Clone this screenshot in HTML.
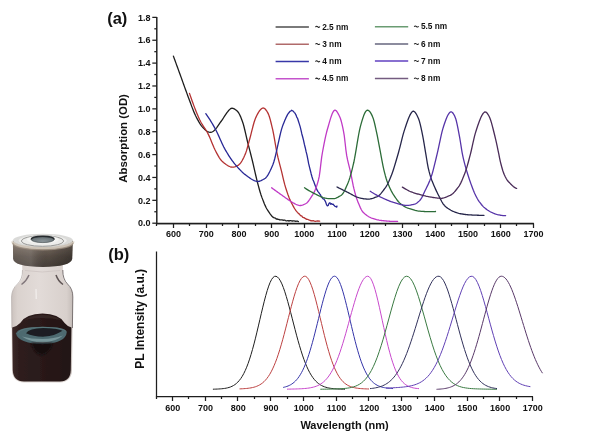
<!DOCTYPE html><html><head><meta charset="utf-8"><style>html,body{margin:0;padding:0;background:#fff;width:591px;height:437px;overflow:hidden}svg{display:block;filter:blur(0.3px)}text{font-family:"Liberation Sans",sans-serif;font-weight:bold;fill:#111}</style></head><body>
<svg width="591" height="437" viewBox="0 0 591 437">
<g stroke="#1e1e1e" stroke-width="1.25" fill="none">
<path d="M156.80 17.0 V223.5 H533.8" stroke-width="1.45"/>
<path d="M156.80 223.5 H533.8"/>
<path d="M152.30 223.20 H156.80"/>
<path d="M154.30 211.76 H156.80"/>
<path d="M152.30 200.33 H156.80"/>
<path d="M154.30 188.89 H156.80"/>
<path d="M152.30 177.46 H156.80"/>
<path d="M154.30 166.02 H156.80"/>
<path d="M152.30 154.59 H156.80"/>
<path d="M154.30 143.15 H156.80"/>
<path d="M152.30 131.72 H156.80"/>
<path d="M154.30 120.28 H156.80"/>
<path d="M152.30 108.85 H156.80"/>
<path d="M154.30 97.41 H156.80"/>
<path d="M152.30 85.98 H156.80"/>
<path d="M154.30 74.54 H156.80"/>
<path d="M152.30 63.11 H156.80"/>
<path d="M154.30 51.68 H156.80"/>
<path d="M152.30 40.24 H156.80"/>
<path d="M154.30 28.80 H156.80"/>
<path d="M152.30 17.37 H156.80"/>
<path d="M156.50 223.5 V226.00"/>
<path d="M173.50 223.5 V228.00"/>
<path d="M189.50 223.5 V226.00"/>
<path d="M206.50 223.5 V228.00"/>
<path d="M222.50 223.5 V226.00"/>
<path d="M238.50 223.5 V228.00"/>
<path d="M255.50 223.5 V226.00"/>
<path d="M271.50 223.5 V228.00"/>
<path d="M287.50 223.5 V226.00"/>
<path d="M304.50 223.5 V228.00"/>
<path d="M320.50 223.5 V226.00"/>
<path d="M336.50 223.5 V228.00"/>
<path d="M353.50 223.5 V226.00"/>
<path d="M369.50 223.5 V228.00"/>
<path d="M385.50 223.5 V226.00"/>
<path d="M402.50 223.5 V228.00"/>
<path d="M418.50 223.5 V226.00"/>
<path d="M435.50 223.5 V228.00"/>
<path d="M451.50 223.5 V226.00"/>
<path d="M467.50 223.5 V228.00"/>
<path d="M484.50 223.5 V226.00"/>
<path d="M500.50 223.5 V228.00"/>
<path d="M516.50 223.5 V226.00"/>
<path d="M533.50 223.5 V228.00"/>
</g>
<text x="150.5" y="226.40" font-size="9" text-anchor="end">0.0</text>
<text x="150.5" y="203.53" font-size="9" text-anchor="end">0.2</text>
<text x="150.5" y="180.66" font-size="9" text-anchor="end">0.4</text>
<text x="150.5" y="157.79" font-size="9" text-anchor="end">0.6</text>
<text x="150.5" y="134.92" font-size="9" text-anchor="end">0.8</text>
<text x="150.5" y="112.05" font-size="9" text-anchor="end">1.0</text>
<text x="150.5" y="89.18" font-size="9" text-anchor="end">1.2</text>
<text x="150.5" y="66.31" font-size="9" text-anchor="end">1.4</text>
<text x="150.5" y="43.44" font-size="9" text-anchor="end">1.6</text>
<text x="150.5" y="20.57" font-size="9" text-anchor="end">1.8</text>
<text x="173.50" y="236.8" font-size="9" text-anchor="middle">600</text>
<text x="206.22" y="236.8" font-size="9" text-anchor="middle">700</text>
<text x="238.94" y="236.8" font-size="9" text-anchor="middle">800</text>
<text x="271.65" y="236.8" font-size="9" text-anchor="middle">900</text>
<text x="304.37" y="236.8" font-size="9" text-anchor="middle">1000</text>
<text x="337.09" y="236.8" font-size="9" text-anchor="middle">1100</text>
<text x="369.81" y="236.8" font-size="9" text-anchor="middle">1200</text>
<text x="402.53" y="236.8" font-size="9" text-anchor="middle">1300</text>
<text x="435.24" y="236.8" font-size="9" text-anchor="middle">1400</text>
<text x="467.96" y="236.8" font-size="9" text-anchor="middle">1500</text>
<text x="500.68" y="236.8" font-size="9" text-anchor="middle">1600</text>
<text x="533.40" y="236.8" font-size="9" text-anchor="middle">1700</text>
<text transform="translate(126.7 138.4) rotate(-90)" font-size="11.4" text-anchor="middle">Absorption (OD)</text>
<text x="107.2" y="23.8" font-size="16.5">(a)</text>
<path d="M275.6 27.0 H308.9" stroke="#4e4e4e" stroke-width="1.5" fill="none"/>
<path d="M315.50 27.10 C316.20 26.00 317.10 26.20 317.80 26.90 C318.50 27.60 319.20 27.60 319.90 26.50" fill="none" stroke="#1a1a1a" stroke-width="1.05"/>
<text x="322.20" y="29.6" font-size="8.3">2.5 nm</text>
<path d="M275.6 44.2 H308.9" stroke="#b06a6a" stroke-width="1.5" fill="none"/>
<path d="M315.50 44.30 C316.20 43.20 317.10 43.40 317.80 44.10 C318.50 44.80 319.20 44.80 319.90 43.70" fill="none" stroke="#1a1a1a" stroke-width="1.05"/>
<text x="322.20" y="46.8" font-size="8.3">3 nm</text>
<path d="M275.6 61.5 H308.9" stroke="#3838a8" stroke-width="1.5" fill="none"/>
<path d="M315.50 61.60 C316.20 60.50 317.10 60.70 317.80 61.40 C318.50 62.10 319.20 62.10 319.90 61.00" fill="none" stroke="#1a1a1a" stroke-width="1.05"/>
<text x="322.20" y="64.1" font-size="8.3">4 nm</text>
<path d="M275.6 78.8 H308.9" stroke="#c454cc" stroke-width="1.5" fill="none"/>
<path d="M315.50 78.90 C316.20 77.80 317.10 78.00 317.80 78.70 C318.50 79.40 319.20 79.40 319.90 78.30" fill="none" stroke="#1a1a1a" stroke-width="1.05"/>
<text x="322.20" y="81.4" font-size="8.3">4.5 nm</text>
<path d="M374.9 26.7 H408.2" stroke="#6a9c72" stroke-width="1.5" fill="none"/>
<path d="M414.20 26.80 C414.90 25.70 415.80 25.90 416.50 26.60 C417.20 27.30 417.90 27.30 418.60 26.20" fill="none" stroke="#1a1a1a" stroke-width="1.05"/>
<text x="420.90" y="29.3" font-size="8.3">5.5 nm</text>
<path d="M374.9 44.1 H408.2" stroke="#66667e" stroke-width="1.5" fill="none"/>
<path d="M414.20 44.20 C414.90 43.10 415.80 43.30 416.50 44.00 C417.20 44.70 417.90 44.70 418.60 43.60" fill="none" stroke="#1a1a1a" stroke-width="1.05"/>
<text x="420.90" y="46.7" font-size="8.3">6 nm</text>
<path d="M374.9 61.1 H408.2" stroke="#6040c0" stroke-width="1.5" fill="none"/>
<path d="M414.20 61.20 C414.90 60.10 415.80 60.30 416.50 61.00 C417.20 61.70 417.90 61.70 418.60 60.60" fill="none" stroke="#1a1a1a" stroke-width="1.05"/>
<text x="420.90" y="63.7" font-size="8.3">7 nm</text>
<path d="M374.9 78.6 H408.2" stroke="#745c80" stroke-width="1.5" fill="none"/>
<path d="M414.20 78.70 C414.90 77.60 415.80 77.80 416.50 78.50 C417.20 79.20 417.90 79.20 418.60 78.10" fill="none" stroke="#1a1a1a" stroke-width="1.05"/>
<text x="420.90" y="81.2" font-size="8.3">8 nm</text>
<g fill="none" stroke-width="1.3" stroke-linejoin="round" stroke-linecap="round">
<path stroke="#1e1e1e" d="M173.40 56.10 L174.25 58.43 L175.10 60.77 L175.95 63.10 L176.80 65.44 L177.65 67.77 L178.50 70.11 L179.35 72.46 L180.20 74.80 L181.05 77.14 L181.90 79.51 L182.75 81.89 L183.60 84.27 L184.45 86.64 L185.30 89.00 L186.15 91.33 L187.00 93.63 L187.85 95.90 L188.70 98.20 L189.55 100.52 L190.40 102.83 L191.25 105.12 L192.10 107.37 L192.95 109.55 L193.80 111.64 L194.65 113.63 L195.50 115.48 L196.35 117.19 L197.20 118.84 L198.05 120.42 L198.90 121.93 L199.75 123.34 L200.60 124.64 L201.45 125.82 L202.30 126.86 L203.15 127.76 L204.00 128.63 L204.85 129.47 L205.70 130.25 L206.55 130.94 L207.40 131.52 L208.25 131.96 L209.10 132.22 L209.95 132.32 L210.80 132.27 L211.65 132.07 L212.50 131.73 L213.35 131.23 L214.20 130.57 L215.05 129.72 L215.90 128.71 L216.75 127.58 L217.60 126.37 L218.45 125.12 L219.30 123.87 L220.15 122.65 L221.00 121.50 L221.85 120.30 L222.70 119.05 L223.55 117.75 L224.40 116.45 L225.25 115.15 L226.10 113.89 L226.95 112.68 L227.80 111.55 L228.65 110.52 L229.50 109.62 L230.35 108.86 L231.20 108.37 L232.05 108.19 L232.90 108.28 L233.75 108.59 L234.60 109.07 L235.45 109.67 L236.30 110.35 L237.15 111.04 L238.00 111.95 L238.85 113.20 L239.70 114.77 L240.55 116.61 L241.40 118.67 L242.25 120.93 L243.10 123.43 L243.95 126.50 L244.80 130.00 L245.65 133.71 L246.50 137.45 L247.35 141.00 L248.20 144.34 L249.05 147.64 L249.90 150.93 L250.75 154.23 L251.60 157.59 L252.45 161.02 L253.30 164.62 L254.15 168.32 L255.00 172.06 L255.85 175.76 L256.70 179.35 L257.55 182.75 L258.40 185.94 L259.25 189.02 L260.10 191.96 L260.95 194.68 L261.80 197.13 L262.65 199.38 L263.50 201.58 L264.35 203.68 L265.20 205.65 L266.05 207.44 L266.90 209.00 L267.75 210.33 L268.60 211.62 L269.45 212.88 L270.30 214.10 L271.15 215.22 L272.00 216.21 L272.85 217.11 L273.70 217.64 L274.55 217.87 L275.40 218.17 L276.25 219.05 L277.10 218.90 L277.95 219.44 L278.80 219.38 L279.65 219.87 L280.50 219.85 L281.35 219.79 L282.20 219.84 L283.05 220.28 L283.90 220.01 L284.75 220.21 L285.60 220.52 L286.45 220.79 L287.30 220.73 L288.15 220.61 L289.00 221.05 L289.85 220.68 L290.70 220.62 L291.55 220.83 L292.40 220.99 L293.25 220.82 L294.10 220.94 L294.95 221.10 L295.80 221.26 L296.65 221.03 L297.50 221.20 L298.35 221.53 L298.40 221.59"/>
<path stroke="#b43232" d="M189.50 93.40 L190.35 95.86 L191.20 98.30 L192.05 100.70 L192.90 103.06 L193.75 105.38 L194.60 107.64 L195.45 109.85 L196.30 111.99 L197.15 114.06 L198.00 116.05 L198.85 117.96 L199.70 119.78 L200.55 121.49 L201.40 123.04 L202.25 124.47 L203.10 125.81 L203.95 127.10 L204.80 128.37 L205.65 129.67 L206.50 131.03 L207.35 132.50 L208.20 134.10 L209.05 135.88 L209.90 137.82 L210.75 139.87 L211.60 141.97 L212.45 144.07 L213.30 146.11 L214.15 148.04 L215.00 149.81 L215.85 151.45 L216.70 153.08 L217.55 154.67 L218.40 156.19 L219.25 157.60 L220.10 158.88 L220.95 159.99 L221.80 160.91 L222.65 161.68 L223.50 162.43 L224.35 163.14 L225.20 163.82 L226.05 164.46 L226.90 165.04 L227.75 165.57 L228.60 166.04 L229.45 166.44 L230.30 166.76 L231.15 167.01 L232.00 167.16 L232.85 167.18 L233.70 167.08 L234.55 166.87 L235.40 166.58 L236.25 166.22 L237.10 165.80 L237.95 165.35 L238.80 164.85 L239.65 164.10 L240.50 163.11 L241.35 161.90 L242.20 160.48 L243.05 158.90 L243.90 157.18 L244.75 155.34 L245.60 153.37 L246.45 150.89 L247.30 147.95 L248.15 144.78 L249.00 141.59 L249.85 138.55 L250.70 135.32 L251.55 131.94 L252.40 128.54 L253.25 125.27 L254.10 122.27 L254.95 119.68 L255.80 117.62 L256.65 115.79 L257.50 114.11 L258.35 112.59 L259.20 111.26 L260.05 110.12 L260.90 109.20 L261.75 108.53 L262.60 108.10 L263.45 107.99 L264.30 108.30 L265.15 109.00 L266.00 110.01 L266.85 111.24 L267.70 112.63 L268.55 114.37 L269.40 116.77 L270.25 119.69 L271.10 122.99 L271.95 126.53 L272.80 130.18 L273.65 134.38 L274.50 139.11 L275.35 144.06 L276.20 148.91 L277.05 153.36 L277.90 157.18 L278.75 160.62 L279.60 163.88 L280.45 167.08 L281.30 170.40 L282.15 173.93 L283.00 177.54 L283.85 181.09 L284.70 184.40 L285.55 187.32 L286.40 190.04 L287.25 192.63 L288.10 195.07 L288.95 197.32 L289.80 199.38 L290.65 201.20 L291.50 202.87 L292.35 204.50 L293.20 206.08 L294.05 207.59 L294.90 209.00 L295.75 210.28 L296.60 211.42 L297.45 212.43 L298.30 213.35 L299.15 213.90 L300.00 214.96 L300.85 215.79 L301.70 215.92 L302.55 217.17 L303.40 217.62 L304.25 217.72 L305.10 218.38 L305.95 218.84 L306.80 219.35 L307.65 219.29 L308.50 219.72 L309.35 220.23 L310.20 220.44 L311.05 220.78 L311.90 220.65 L312.75 220.94 L313.60 220.75 L314.45 221.18 L315.30 221.28 L316.15 221.16 L317.00 221.20 L317.85 220.80 L318.70 221.20 L319.55 221.16 L319.70 221.13"/>
<path stroke="#282896" d="M205.80 113.70 L206.65 114.84 L207.50 116.04 L208.35 117.29 L209.20 118.59 L210.05 119.93 L210.90 121.32 L211.75 122.74 L212.60 124.19 L213.45 125.67 L214.30 127.18 L215.15 128.71 L216.00 130.30 L216.85 132.00 L217.70 133.78 L218.55 135.62 L219.40 137.50 L220.25 139.40 L221.10 141.29 L221.95 143.16 L222.80 144.97 L223.65 146.72 L224.50 148.37 L225.35 149.91 L226.20 151.37 L227.05 152.79 L227.90 154.18 L228.75 155.53 L229.60 156.85 L230.45 158.14 L231.30 159.38 L232.15 160.58 L233.00 161.73 L233.85 162.84 L234.70 163.91 L235.55 164.93 L236.40 165.91 L237.25 166.87 L238.10 167.82 L238.95 168.75 L239.80 169.65 L240.65 170.53 L241.50 171.38 L242.35 172.19 L243.20 172.97 L244.05 173.70 L244.90 174.39 L245.75 175.04 L246.60 175.68 L247.45 176.32 L248.30 176.94 L249.15 177.54 L250.00 178.13 L250.85 178.69 L251.70 179.21 L252.55 179.71 L253.40 180.16 L254.25 180.56 L255.10 180.92 L255.95 181.22 L256.80 181.44 L257.65 181.51 L258.50 181.44 L259.35 181.26 L260.20 180.98 L261.05 180.62 L261.90 180.21 L262.75 179.76 L263.60 179.29 L264.45 178.83 L265.30 178.25 L266.15 177.42 L267.00 176.37 L267.85 175.11 L268.70 173.66 L269.55 172.06 L270.40 170.32 L271.25 168.46 L272.10 166.52 L272.95 164.48 L273.80 161.99 L274.65 159.01 L275.50 155.63 L276.35 151.97 L277.20 148.13 L278.05 144.19 L278.90 140.28 L279.75 136.49 L280.60 132.92 L281.45 129.68 L282.30 126.87 L283.15 124.57 L284.00 122.43 L284.85 120.37 L285.70 118.40 L286.55 116.58 L287.40 114.92 L288.25 113.49 L289.10 112.51 L289.95 111.40 L290.80 110.95 L291.65 110.22 L292.50 110.71 L293.35 111.33 L294.20 112.37 L295.05 113.27 L295.90 114.85 L296.75 117.08 L297.60 118.54 L298.45 121.24 L299.30 123.92 L300.15 126.61 L301.00 130.14 L301.85 133.96 L302.70 137.02 L303.55 140.36 L304.40 144.41 L305.25 147.73 L306.10 151.67 L306.95 154.96 L307.80 159.24 L308.65 163.67 L309.50 167.06 L310.35 170.50 L311.20 173.96 L312.05 177.02 L312.90 179.70 L313.75 181.46 L314.60 183.94 L315.45 186.26 L316.30 188.14 L317.15 190.18 L318.00 191.58 L318.85 192.56 L319.70 193.93 L320.55 194.95 L321.40 196.91 L322.25 197.83 L323.10 198.90 L323.95 199.17 L324.80 200.38 L325.65 201.94 L326.50 204.65 L327.35 205.77 L328.20 205.44 L329.05 203.26 L329.90 202.72 L330.75 204.32 L331.60 203.59 L332.45 204.44 L333.30 204.25 L334.15 205.62 L335.00 206.32 L335.85 206.56 L336.70 207.07 L337.00 206.02"/>
<path stroke="#c03ac6" d="M271.60 187.80 L272.41 188.39 L273.22 188.98 L274.02 189.57 L274.83 190.15 L275.64 190.74 L276.45 191.32 L277.25 191.90 L278.06 192.48 L278.87 193.05 L279.68 193.62 L280.48 194.20 L281.29 194.77 L282.10 195.34 L282.91 195.92 L283.72 196.50 L284.52 197.09 L285.33 197.67 L286.14 198.25 L286.95 198.82 L287.75 199.39 L288.56 199.95 L289.37 200.49 L290.18 201.02 L290.98 201.53 L291.79 202.02 L292.60 202.49 L293.41 202.95 L294.22 203.40 L295.02 203.83 L295.83 204.23 L296.64 204.60 L297.45 204.92 L298.25 205.20 L299.06 205.41 L299.87 205.52 L300.68 205.50 L301.48 205.36 L302.29 205.14 L303.10 204.84 L303.91 204.49 L304.72 204.12 L305.52 203.73 L306.33 203.30 L307.14 202.63 L307.95 201.77 L308.75 200.74 L309.56 199.58 L310.37 198.35 L311.18 197.08 L311.98 195.80 L312.79 194.56 L313.60 193.22 L314.41 191.65 L315.22 189.84 L316.02 187.78 L316.83 185.46 L317.64 182.85 L318.45 179.96 L319.25 176.46 L320.06 170.63 L320.87 163.59 L321.68 157.08 L322.48 152.24 L323.29 147.79 L324.10 143.56 L324.91 139.59 L325.72 135.90 L326.52 132.54 L327.33 129.54 L328.14 126.72 L328.95 123.86 L329.75 121.06 L330.56 118.39 L331.37 115.95 L332.18 113.83 L332.98 112.11 L333.79 110.88 L334.60 110.24 L335.41 110.22 L336.22 110.76 L337.02 111.74 L337.83 113.05 L338.64 114.59 L339.45 116.26 L340.25 118.07 L341.06 120.51 L341.87 123.58 L342.68 127.17 L343.48 131.19 L344.29 135.91 L345.10 142.75 L345.91 150.03 L346.72 155.64 L347.52 159.67 L348.33 163.13 L349.14 166.32 L349.95 169.54 L350.75 173.08 L351.56 177.15 L352.37 181.43 L353.18 185.49 L353.98 188.95 L354.79 192.10 L355.60 195.03 L356.41 197.71 L357.22 200.09 L358.02 202.14 L358.83 204.11 L359.64 206.04 L360.45 207.87 L361.25 209.53 L362.06 210.95 L362.87 212.06 L363.68 212.84 L364.48 213.54 L365.29 214.22 L366.10 214.86 L366.91 215.47 L367.72 216.04 L368.52 216.56 L369.33 217.02 L370.14 217.43 L370.95 217.77 L371.75 218.05 L372.56 218.30 L373.37 218.56 L374.18 218.82 L374.98 219.07 L375.79 219.32 L376.60 219.56 L377.41 219.78 L378.22 219.98 L379.02 220.16 L379.83 220.31 L380.64 220.43 L381.45 220.52 L382.25 220.61 L383.06 220.69 L383.87 220.77 L384.68 220.84 L385.48 220.92 L386.29 220.99 L387.10 221.06 L387.91 221.12 L388.72 221.18 L389.52 221.24 L390.33 221.29 L391.14 221.33 L391.95 221.37 L392.75 221.40 L393.56 221.42 L394.37 221.44 L395.18 221.44 L395.98 221.44 L396.79 221.42 L397.60 221.40"/>
<path stroke="#2c6c38" d="M304.50 187.80 L305.31 188.32 L306.12 188.84 L306.93 189.35 L307.73 189.85 L308.54 190.34 L309.35 190.82 L310.16 191.29 L310.97 191.75 L311.78 192.19 L312.59 192.63 L313.40 193.05 L314.20 193.45 L315.01 193.86 L315.82 194.27 L316.63 194.68 L317.44 195.08 L318.25 195.48 L319.06 195.86 L319.86 196.23 L320.67 196.59 L321.48 196.92 L322.29 197.23 L323.10 197.52 L323.91 197.78 L324.72 198.00 L325.52 198.19 L326.33 198.35 L327.14 198.47 L327.95 198.56 L328.76 198.63 L329.57 198.67 L330.38 198.70 L331.19 198.71 L331.99 198.71 L332.80 198.70 L333.61 198.66 L334.42 198.52 L335.23 198.31 L336.04 198.04 L336.85 197.70 L337.65 197.32 L338.46 196.89 L339.27 196.44 L340.08 195.97 L340.89 195.49 L341.70 194.93 L342.51 194.06 L343.31 192.89 L344.12 191.48 L344.93 189.87 L345.74 188.11 L346.55 186.27 L347.36 184.39 L348.17 182.51 L348.98 180.39 L349.78 177.93 L350.59 175.19 L351.40 172.21 L352.21 169.04 L353.02 165.72 L353.83 162.26 L354.64 158.23 L355.44 153.71 L356.25 148.89 L357.06 143.95 L357.87 139.09 L358.68 134.50 L359.49 130.37 L360.30 126.89 L361.10 123.94 L361.91 121.11 L362.72 118.47 L363.53 116.09 L364.34 114.02 L365.15 112.35 L365.96 111.12 L366.77 110.42 L367.57 110.21 L368.38 110.42 L369.19 111.00 L370.00 111.91 L370.81 113.14 L371.62 114.63 L372.43 116.36 L373.23 118.44 L374.04 121.20 L374.85 124.49 L375.66 128.11 L376.47 131.87 L377.28 135.67 L378.09 139.77 L378.90 144.06 L379.70 148.36 L380.51 152.60 L381.32 157.01 L382.13 161.41 L382.94 165.60 L383.75 169.36 L384.56 172.64 L385.36 175.70 L386.17 178.49 L386.98 181.00 L387.79 183.19 L388.60 185.11 L389.41 186.94 L390.22 188.70 L391.02 190.36 L391.83 191.91 L392.64 193.33 L393.45 194.63 L394.26 195.84 L395.07 197.06 L395.88 198.26 L396.69 199.42 L397.49 200.52 L398.30 201.53 L399.11 202.43 L399.92 203.21 L400.73 203.85 L401.54 204.45 L402.35 205.03 L403.15 205.59 L403.96 206.12 L404.77 206.63 L405.58 207.09 L406.39 207.51 L407.20 207.88 L408.01 208.20 L408.81 208.47 L409.62 208.72 L410.43 208.97 L411.24 209.22 L412.05 209.47 L412.86 209.71 L413.67 209.94 L414.48 210.16 L415.28 210.37 L416.09 210.56 L416.90 210.74 L417.71 210.89 L418.52 211.02 L419.33 211.13 L420.14 211.21 L420.94 211.28 L421.75 211.34 L422.56 211.40 L423.37 211.46 L424.18 211.50 L424.99 211.55 L425.80 211.59 L426.60 211.62 L427.41 211.65 L428.22 211.66 L429.03 211.68 L429.84 211.68 L430.65 211.68 L431.46 211.67 L432.27 211.66 L433.07 211.63 L433.88 211.60 L434.69 211.55 L435.50 211.50"/>
<path stroke="#26264a" d="M337.00 187.00 L337.81 187.40 L338.62 187.81 L339.42 188.21 L340.23 188.62 L341.04 189.02 L341.85 189.42 L342.65 189.83 L343.46 190.23 L344.27 190.63 L345.08 191.04 L345.88 191.44 L346.69 191.85 L347.50 192.25 L348.31 192.66 L349.12 193.08 L349.92 193.51 L350.73 193.96 L351.54 194.40 L352.35 194.85 L353.15 195.29 L353.96 195.71 L354.77 196.11 L355.58 196.49 L356.38 196.84 L357.19 197.16 L358.00 197.43 L358.81 197.68 L359.62 197.91 L360.42 198.11 L361.23 198.30 L362.04 198.46 L362.85 198.61 L363.65 198.74 L364.46 198.85 L365.27 198.94 L366.08 199.01 L366.88 199.07 L367.69 199.11 L368.50 199.10 L369.31 199.03 L370.12 198.91 L370.92 198.75 L371.73 198.55 L372.54 198.32 L373.35 198.06 L374.15 197.78 L374.96 197.48 L375.77 197.17 L376.58 196.86 L377.38 196.53 L378.19 196.06 L379.00 195.45 L379.81 194.70 L380.62 193.85 L381.42 192.91 L382.23 191.90 L383.04 190.85 L383.85 189.76 L384.65 188.67 L385.46 187.58 L386.27 186.37 L387.08 184.98 L387.88 183.43 L388.69 181.75 L389.50 179.96 L390.31 178.08 L391.12 176.12 L391.92 173.99 L392.73 171.69 L393.54 169.23 L394.35 166.66 L395.15 164.00 L395.96 161.28 L396.77 158.52 L397.58 155.76 L398.38 152.95 L399.19 149.94 L400.00 146.79 L400.81 143.57 L401.62 140.35 L402.42 137.21 L403.23 134.19 L404.04 131.39 L404.85 128.86 L405.65 126.44 L406.46 124.05 L407.27 121.73 L408.08 119.53 L408.88 117.50 L409.69 115.67 L410.50 114.09 L411.31 112.79 L412.12 111.83 L412.92 111.27 L413.73 111.24 L414.54 111.70 L415.35 112.57 L416.15 113.78 L416.96 115.25 L417.77 116.92 L418.58 118.72 L419.38 121.09 L420.19 124.12 L421.00 127.63 L421.81 131.44 L422.62 135.37 L423.42 139.67 L424.23 144.38 L425.04 149.27 L425.85 154.10 L426.65 159.00 L427.46 163.98 L428.27 168.10 L429.08 171.42 L429.88 174.41 L430.69 177.10 L431.50 179.49 L432.31 181.62 L433.12 183.59 L433.92 185.50 L434.73 187.35 L435.54 189.14 L436.35 190.88 L437.15 192.57 L437.96 194.20 L438.77 195.78 L439.58 197.32 L440.38 198.90 L441.19 200.47 L442.00 201.97 L442.81 203.33 L443.62 204.51 L444.42 205.45 L445.23 206.26 L446.04 206.99 L446.85 207.64 L447.65 208.21 L448.46 208.73 L449.27 209.23 L450.08 209.73 L450.88 210.21 L451.69 210.65 L452.50 211.06 L453.31 211.42 L454.12 211.74 L454.92 212.06 L455.73 212.37 L456.54 212.66 L457.35 212.94 L458.15 213.19 L458.96 213.42 L459.77 213.60 L460.58 213.75 L461.38 213.88 L462.19 214.01 L463.00 214.14 L463.81 214.26 L464.62 214.38 L465.42 214.49 L466.23 214.59 L467.04 214.68 L467.85 214.76 L468.65 214.83 L469.46 214.88 L470.27 214.92 L471.08 214.96 L471.88 215.00 L472.69 215.04 L473.50 215.08 L474.31 215.12 L475.12 215.15 L475.92 215.18 L476.73 215.21 L477.54 215.24 L478.35 215.26 L479.15 215.28 L479.96 215.29 L480.77 215.31 L481.58 215.31 L482.38 215.31 L483.19 215.31 L484.00 215.30"/>
<path stroke="#5634a8" d="M370.20 191.30 L371.01 191.79 L371.81 192.29 L372.62 192.77 L373.42 193.25 L374.23 193.72 L375.04 194.19 L375.84 194.64 L376.65 195.09 L377.45 195.53 L378.26 195.95 L379.07 196.37 L379.87 196.77 L380.68 197.16 L381.48 197.53 L382.29 197.90 L383.10 198.27 L383.90 198.63 L384.71 198.99 L385.51 199.35 L386.32 199.70 L387.12 200.04 L387.93 200.38 L388.74 200.71 L389.54 201.03 L390.35 201.34 L391.15 201.65 L391.96 201.94 L392.77 202.22 L393.57 202.49 L394.38 202.74 L395.18 202.98 L395.99 203.22 L396.80 203.46 L397.60 203.68 L398.41 203.91 L399.21 204.12 L400.02 204.33 L400.83 204.52 L401.63 204.70 L402.44 204.87 L403.24 205.03 L404.05 205.16 L404.86 205.28 L405.66 205.38 L406.47 205.45 L407.27 205.46 L408.08 205.42 L408.89 205.34 L409.69 205.23 L410.50 205.08 L411.30 204.92 L412.11 204.74 L412.92 204.56 L413.72 204.38 L414.53 204.19 L415.33 203.89 L416.14 203.46 L416.95 202.93 L417.75 202.31 L418.56 201.61 L419.36 200.85 L420.17 200.02 L420.98 198.94 L421.78 197.58 L422.59 196.01 L423.39 194.31 L424.20 192.56 L425.00 190.82 L425.81 189.17 L426.62 187.55 L427.42 185.89 L428.23 184.17 L429.03 182.37 L429.84 180.44 L430.65 178.37 L431.45 176.08 L432.26 173.47 L433.06 170.57 L433.87 167.46 L434.68 164.20 L435.48 160.86 L436.29 157.51 L437.09 154.20 L437.90 150.69 L438.71 146.95 L439.51 143.11 L440.32 139.28 L441.12 135.59 L441.93 132.17 L442.74 129.12 L443.54 126.50 L444.35 124.03 L445.15 121.68 L445.96 119.49 L446.77 117.51 L447.57 115.76 L448.38 114.28 L449.18 113.10 L449.99 112.26 L450.80 111.84 L451.60 111.95 L452.41 112.52 L453.21 113.49 L454.02 114.81 L454.83 116.40 L455.63 118.40 L456.44 121.29 L457.24 124.87 L458.05 128.87 L458.85 133.03 L459.66 137.31 L460.47 142.26 L461.27 147.45 L462.08 152.31 L462.88 156.32 L463.69 159.85 L464.50 163.11 L465.30 166.14 L466.11 168.96 L466.91 171.62 L467.72 174.21 L468.53 176.73 L469.33 179.19 L470.14 181.56 L470.94 183.86 L471.75 186.07 L472.56 188.20 L473.36 190.27 L474.17 192.23 L474.97 194.03 L475.78 195.67 L476.59 197.24 L477.39 198.73 L478.20 200.10 L479.00 201.33 L479.81 202.42 L480.62 203.48 L481.42 204.50 L482.23 205.46 L483.03 206.35 L483.84 207.15 L484.65 207.86 L485.45 208.49 L486.26 209.11 L487.06 209.70 L487.87 210.27 L488.68 210.80 L489.48 211.30 L490.29 211.76 L491.09 212.16 L491.90 212.52 L492.70 212.88 L493.51 213.24 L494.32 213.58 L495.12 213.90 L495.93 214.19 L496.73 214.45 L497.54 214.66 L498.35 214.83 L499.15 214.97 L499.96 215.11 L500.76 215.25 L501.57 215.37 L502.38 215.48 L503.18 215.57 L503.99 215.64 L504.79 215.69 L505.60 215.70"/>
<path stroke="#4a2c58" d="M402.40 187.10 L403.21 187.60 L404.02 188.11 L404.83 188.60 L405.64 189.08 L406.45 189.55 L407.26 190.00 L408.07 190.44 L408.88 190.85 L409.69 191.23 L410.50 191.58 L411.31 191.90 L412.12 192.20 L412.93 192.49 L413.74 192.76 L414.55 193.02 L415.36 193.28 L416.17 193.53 L416.98 193.77 L417.79 194.00 L418.60 194.22 L419.41 194.44 L420.22 194.66 L421.03 194.87 L421.84 195.08 L422.65 195.30 L423.46 195.50 L424.27 195.71 L425.08 195.90 L425.89 196.10 L426.70 196.28 L427.51 196.46 L428.32 196.62 L429.13 196.78 L429.94 196.94 L430.75 197.09 L431.56 197.23 L432.37 197.37 L433.18 197.49 L433.99 197.62 L434.80 197.73 L435.61 197.84 L436.42 197.94 L437.23 198.03 L438.04 198.11 L438.85 198.18 L439.66 198.24 L440.47 198.29 L441.28 198.31 L442.09 198.25 L442.90 198.12 L443.71 197.93 L444.52 197.69 L445.33 197.41 L446.14 197.09 L446.95 196.75 L447.76 196.39 L448.57 196.02 L449.38 195.66 L450.19 195.31 L451.00 194.89 L451.81 194.36 L452.62 193.70 L453.43 192.95 L454.24 192.12 L455.05 191.21 L455.86 190.24 L456.67 189.24 L457.48 188.20 L458.29 187.15 L459.10 186.01 L459.90 184.66 L460.71 183.11 L461.52 181.40 L462.33 179.55 L463.14 177.59 L463.95 175.54 L464.76 173.42 L465.57 171.25 L466.38 168.83 L467.19 166.14 L468.00 163.27 L468.81 160.26 L469.62 157.19 L470.43 154.10 L471.24 150.74 L472.05 147.13 L472.86 143.44 L473.67 139.81 L474.48 136.39 L475.29 133.34 L476.10 130.74 L476.91 128.23 L477.72 125.79 L478.53 123.44 L479.34 121.22 L480.15 119.16 L480.96 117.28 L481.77 115.64 L482.58 114.24 L483.39 113.14 L484.20 112.36 L485.01 111.95 L485.82 112.04 L486.63 112.60 L487.44 113.54 L488.25 114.80 L489.06 116.31 L489.87 118.07 L490.68 120.29 L491.49 122.92 L492.30 125.84 L493.11 128.98 L493.92 132.24 L494.73 135.52 L495.54 138.86 L496.35 142.44 L497.16 146.20 L497.97 150.06 L498.78 153.95 L499.59 158.06 L500.40 161.82 L501.21 165.03 L502.02 168.05 L502.83 170.78 L503.64 173.13 L504.45 175.02 L505.26 176.68 L506.07 178.22 L506.88 179.59 L507.69 180.77 L508.50 181.70 L509.31 182.54 L510.12 183.39 L510.93 184.22 L511.74 185.03 L512.55 185.79 L513.36 186.49 L514.17 187.12 L514.98 187.66 L515.79 188.09 L516.60 188.40"/>
</g>
<g stroke="#1e1e1e" stroke-width="1.25" fill="none">
<path d="M156.50 251.5 V396.5 H533"/>
<path d="M156.50 396.5 V399.00"/>
<path d="M172.50 396.5 V401.00"/>
<path d="M188.50 396.5 V399.00"/>
<path d="M205.50 396.5 V401.00"/>
<path d="M221.50 396.5 V399.00"/>
<path d="M237.50 396.5 V401.00"/>
<path d="M254.50 396.5 V399.00"/>
<path d="M270.50 396.5 V401.00"/>
<path d="M287.50 396.5 V399.00"/>
<path d="M303.50 396.5 V401.00"/>
<path d="M319.50 396.5 V399.00"/>
<path d="M336.50 396.5 V401.00"/>
<path d="M352.50 396.5 V399.00"/>
<path d="M368.50 396.5 V401.00"/>
<path d="M385.50 396.5 V399.00"/>
<path d="M401.50 396.5 V401.00"/>
<path d="M417.50 396.5 V399.00"/>
<path d="M434.50 396.5 V401.00"/>
<path d="M450.50 396.5 V399.00"/>
<path d="M467.50 396.5 V401.00"/>
<path d="M483.50 396.5 V399.00"/>
<path d="M499.50 396.5 V401.00"/>
<path d="M516.50 396.5 V399.00"/>
<path d="M532.50 396.5 V401.00"/>
</g>
<text x="172.77" y="410.8" font-size="9" text-anchor="middle">600</text>
<text x="205.50" y="410.8" font-size="9" text-anchor="middle">700</text>
<text x="238.24" y="410.8" font-size="9" text-anchor="middle">800</text>
<text x="270.98" y="410.8" font-size="9" text-anchor="middle">900</text>
<text x="303.71" y="410.8" font-size="9" text-anchor="middle">1000</text>
<text x="336.45" y="410.8" font-size="9" text-anchor="middle">1100</text>
<text x="369.18" y="410.8" font-size="9" text-anchor="middle">1200</text>
<text x="401.92" y="410.8" font-size="9" text-anchor="middle">1300</text>
<text x="434.66" y="410.8" font-size="9" text-anchor="middle">1400</text>
<text x="467.39" y="410.8" font-size="9" text-anchor="middle">1500</text>
<text x="500.13" y="410.8" font-size="9" text-anchor="middle">1600</text>
<text x="532.86" y="410.8" font-size="9" text-anchor="middle">1700</text>
<text x="344.5" y="429.2" font-size="11" text-anchor="middle">Wavelength (nm)</text>
<text transform="translate(144.2 318.8) rotate(-90)" font-size="12" text-anchor="middle">PL Intensity (a.u.)</text>
<text x="108.2" y="260.2" font-size="16.5">(b)</text>
<g fill="none" stroke-width="1.0" stroke-linejoin="round">
<path stroke="#1e1e1e" d="M212.90 389.21 L214.37 389.17 L215.84 389.12 L217.30 389.06 L218.77 388.98 L220.24 388.89 L221.71 388.76 L223.17 388.61 L224.64 388.41 L226.11 388.16 L227.58 387.84 L229.05 387.44 L230.51 386.94 L231.98 386.31 L233.45 385.55 L234.92 384.60 L236.38 383.46 L237.85 382.09 L239.32 380.45 L240.79 378.52 L242.26 376.25 L243.72 373.63 L245.19 370.62 L246.66 367.21 L248.13 363.38 L249.59 359.12 L251.06 354.44 L252.53 349.37 L254.00 343.93 L255.47 338.16 L256.93 332.14 L258.40 325.93 L259.87 319.63 L261.34 313.33 L262.80 307.16 L264.27 301.23 L265.74 295.67 L267.21 290.59 L268.68 286.13 L270.14 282.38 L271.61 279.46 L273.08 277.44 L274.55 276.37 L276.01 276.27 L277.48 277.02 L278.95 278.57 L280.42 280.87 L281.89 283.89 L283.35 287.55 L284.82 291.78 L286.29 296.48 L287.76 301.57 L289.22 306.96 L290.69 312.55 L292.16 318.25 L293.63 323.97 L295.10 329.65 L296.56 335.20 L298.03 340.57 L299.50 345.70 L300.97 350.55 L302.43 355.09 L303.90 359.30 L305.37 363.17 L306.84 366.69 L308.31 369.85 L309.77 372.69 L311.24 375.19 L312.71 377.40 L314.18 379.32 L315.64 380.98 L317.11 382.40 L318.58 383.61 L320.05 384.63 L321.52 385.49 L322.98 386.20 L324.45 386.79 L325.92 387.28 L327.39 387.68 L328.85 388.00 L330.32 388.26 L331.79 388.47 L333.26 388.64 L334.73 388.78 L336.19 388.89 L337.66 388.98 L339.13 389.05 L340.60 389.11 L342.06 389.15 L343.53 389.19 L345.00 389.22"/>
<path stroke="#bc4040" d="M239.50 388.89 L240.94 388.83 L242.38 388.76 L243.82 388.67 L245.26 388.57 L246.69 388.44 L248.13 388.28 L249.57 388.09 L251.01 387.86 L252.45 387.57 L253.89 387.22 L255.33 386.79 L256.77 386.27 L258.21 385.64 L259.64 384.89 L261.08 384.00 L262.52 382.94 L263.96 381.69 L265.40 380.23 L266.84 378.53 L268.28 376.58 L269.72 374.34 L271.16 371.80 L272.59 368.95 L274.03 365.77 L275.47 362.24 L276.91 358.38 L278.35 354.18 L279.79 349.66 L281.23 344.84 L282.67 339.75 L284.11 334.43 L285.54 328.93 L286.98 323.32 L288.42 317.66 L289.86 312.03 L291.30 306.51 L292.74 301.19 L294.18 296.16 L295.62 291.52 L297.06 287.35 L298.49 283.73 L299.93 280.76 L301.37 278.49 L302.81 276.98 L304.25 276.26 L305.69 276.38 L307.13 277.41 L308.57 279.34 L310.01 282.11 L311.44 285.65 L312.88 289.87 L314.32 294.66 L315.76 299.93 L317.20 305.56 L318.64 311.43 L320.08 317.44 L321.52 323.48 L322.96 329.47 L324.39 335.32 L325.83 340.96 L327.27 346.32 L328.71 351.37 L330.15 356.06 L331.59 360.38 L333.03 364.31 L334.47 367.85 L335.91 371.01 L337.34 373.81 L338.78 376.25 L340.22 378.38 L341.66 380.20 L343.10 381.76 L344.54 383.08 L345.98 384.18 L347.42 385.10 L348.86 385.86 L350.29 386.49 L351.73 387.00 L353.17 387.41 L354.61 387.75 L356.05 388.02 L357.49 388.23 L358.93 388.41 L360.37 388.55 L361.81 388.67 L363.24 388.76 L364.68 388.83 L366.12 388.90 L367.56 388.95 L369.00 388.99"/>
<path stroke="#3434a8" d="M283.20 387.43 L284.42 387.15 L285.64 386.82 L286.86 386.43 L288.08 385.97 L289.30 385.43 L290.52 384.80 L291.74 384.07 L292.96 383.21 L294.18 382.22 L295.40 381.09 L296.62 379.78 L297.84 378.30 L299.06 376.62 L300.28 374.73 L301.50 372.62 L302.72 370.27 L303.94 367.67 L305.16 364.81 L306.38 361.69 L307.60 358.32 L308.82 354.68 L310.04 350.79 L311.26 346.67 L312.48 342.33 L313.70 337.79 L314.92 333.09 L316.14 328.26 L317.36 323.34 L318.58 318.38 L319.80 313.43 L321.02 308.54 L322.24 303.78 L323.46 299.20 L324.68 294.88 L325.90 290.86 L327.12 287.22 L328.34 284.02 L329.56 281.30 L330.78 279.13 L332.00 277.53 L333.22 276.55 L334.44 276.20 L335.66 276.52 L336.88 277.53 L338.10 279.22 L339.32 281.55 L340.54 284.47 L341.76 287.93 L342.98 291.85 L344.20 296.16 L345.42 300.80 L346.64 305.69 L347.86 310.76 L349.08 315.93 L350.30 321.14 L351.52 326.34 L352.74 331.45 L353.96 336.44 L355.18 341.25 L356.40 345.86 L357.62 350.23 L358.84 354.35 L360.06 358.18 L361.28 361.74 L362.50 365.00 L363.72 367.98 L364.94 370.67 L366.16 373.09 L367.38 375.26 L368.60 377.18 L369.82 378.87 L371.04 380.35 L372.26 381.64 L373.48 382.76 L374.70 383.72 L375.92 384.54 L377.14 385.24 L378.36 385.83 L379.58 386.33 L380.80 386.76 L382.02 387.11 L383.24 387.41 L384.46 387.66 L385.68 387.86 L386.90 388.04 L388.12 388.18 L389.34 388.30 L390.56 388.41 L391.78 388.50 L393.00 388.57"/>
<path stroke="#c848cc" d="M287.00 389.15 L288.47 389.13 L289.93 389.10 L291.40 389.07 L292.87 389.04 L294.33 389.01 L295.80 388.97 L297.27 388.92 L298.73 388.87 L300.20 388.80 L301.67 388.73 L303.13 388.63 L304.60 388.52 L306.07 388.38 L307.53 388.22 L309.00 388.02 L310.47 387.78 L311.93 387.48 L313.40 387.13 L314.87 386.70 L316.33 386.19 L317.80 385.57 L319.27 384.85 L320.73 383.99 L322.20 382.98 L323.67 381.81 L325.13 380.44 L326.60 378.87 L328.07 377.07 L329.53 375.02 L331.00 372.71 L332.47 370.12 L333.93 367.24 L335.40 364.06 L336.87 360.57 L338.33 356.78 L339.80 352.69 L341.27 348.32 L342.73 343.69 L344.20 338.83 L345.67 333.77 L347.13 328.56 L348.60 323.25 L350.07 317.90 L351.53 312.57 L353.00 307.33 L354.47 302.27 L355.93 297.44 L357.40 292.94 L358.87 288.83 L360.33 285.20 L361.80 282.11 L363.27 279.62 L364.73 277.78 L366.20 276.63 L367.67 276.20 L369.13 276.69 L370.60 278.33 L372.07 281.07 L373.53 284.83 L375.00 289.47 L376.47 294.86 L377.93 300.84 L379.40 307.26 L380.87 313.94 L382.33 320.75 L383.80 327.54 L385.27 334.19 L386.73 340.58 L388.20 346.63 L389.67 352.28 L391.13 357.47 L392.60 362.18 L394.07 366.39 L395.53 370.12 L397.00 373.37 L398.47 376.17 L399.93 378.56 L401.40 380.58 L402.87 382.26 L404.33 383.65 L405.80 384.78 L407.27 385.70 L408.73 386.44 L410.20 387.02 L411.67 387.49 L413.13 387.85 L414.60 388.14 L416.07 388.36 L417.53 388.53 L419.00 388.67"/>
<path stroke="#3a7a42" d="M320.30 389.22 L322.26 389.20 L324.23 389.18 L326.19 389.15 L328.15 389.12 L330.12 389.09 L332.08 389.05 L334.04 389.00 L336.01 388.94 L337.97 388.87 L339.93 388.78 L341.90 388.67 L343.86 388.52 L345.82 388.33 L347.79 388.09 L349.75 387.77 L351.71 387.35 L353.68 386.82 L355.64 386.14 L357.60 385.28 L359.57 384.20 L361.53 382.86 L363.49 381.20 L365.46 379.19 L367.42 376.77 L369.38 373.90 L371.35 370.54 L373.31 366.65 L375.27 362.21 L377.24 357.22 L379.20 351.69 L381.16 345.66 L383.13 339.19 L385.09 332.36 L387.05 325.27 L389.02 318.07 L390.98 310.91 L392.94 303.96 L394.91 297.41 L396.87 291.44 L398.83 286.23 L400.80 281.97 L402.76 278.81 L404.72 276.86 L406.69 276.20 L408.65 276.83 L410.61 278.71 L412.58 281.76 L414.54 285.87 L416.50 290.91 L418.47 296.71 L420.43 303.09 L422.39 309.87 L424.36 316.89 L426.32 323.97 L428.28 330.96 L430.25 337.73 L432.21 344.18 L434.17 350.21 L436.14 355.78 L438.10 360.83 L440.06 365.35 L442.03 369.34 L443.99 372.81 L445.95 375.79 L447.92 378.33 L449.88 380.45 L451.84 382.22 L453.81 383.66 L455.77 384.83 L457.73 385.77 L459.70 386.52 L461.66 387.11 L463.62 387.57 L465.59 387.92 L467.55 388.20 L469.51 388.42 L471.48 388.59 L473.44 388.71 L475.40 388.82 L477.37 388.90 L479.33 388.96 L481.29 389.01 L483.26 389.06 L485.22 389.10 L487.18 389.13 L489.15 389.16 L491.11 389.18 L493.07 389.21 L495.04 389.23 L497.00 389.25"/>
<path stroke="#30305a" d="M370.00 388.61 L371.41 388.47 L372.82 388.29 L374.23 388.08 L375.64 387.83 L377.06 387.53 L378.47 387.19 L379.88 386.78 L381.29 386.30 L382.70 385.75 L384.11 385.10 L385.52 384.36 L386.93 383.50 L388.34 382.52 L389.76 381.41 L391.17 380.14 L392.58 378.72 L393.99 377.12 L395.40 375.34 L396.81 373.37 L398.22 371.18 L399.63 368.79 L401.04 366.17 L402.46 363.33 L403.87 360.27 L405.28 356.98 L406.69 353.48 L408.10 349.76 L409.51 345.86 L410.92 341.77 L412.33 337.52 L413.74 333.14 L415.16 328.66 L416.57 324.10 L417.98 319.51 L419.39 314.93 L420.80 310.40 L422.21 305.96 L423.62 301.66 L425.03 297.55 L426.44 293.68 L427.86 290.09 L429.27 286.83 L430.68 283.94 L432.09 281.47 L433.50 279.44 L434.91 277.88 L436.32 276.82 L437.73 276.28 L439.14 276.27 L440.56 276.95 L441.97 278.32 L443.38 280.35 L444.79 283.01 L446.20 286.24 L447.61 289.98 L449.02 294.18 L450.43 298.75 L451.84 303.62 L453.26 308.71 L454.67 313.96 L456.08 319.29 L457.49 324.62 L458.90 329.91 L460.31 335.09 L461.72 340.11 L463.13 344.92 L464.54 349.50 L465.96 353.82 L467.37 357.85 L468.78 361.59 L470.19 365.02 L471.60 368.15 L473.01 370.98 L474.42 373.52 L475.83 375.79 L477.24 377.79 L478.66 379.55 L480.07 381.08 L481.48 382.41 L482.89 383.55 L484.30 384.53 L485.71 385.36 L487.12 386.06 L488.53 386.65 L489.94 387.14 L491.36 387.55 L492.77 387.88 L494.18 388.16 L495.59 388.39 L497.00 388.57"/>
<path stroke="#6040b4" d="M386.00 388.10 L387.60 388.04 L389.21 387.97 L390.81 387.90 L392.42 387.83 L394.02 387.74 L395.63 387.65 L397.23 387.55 L398.84 387.44 L400.44 387.31 L402.04 387.16 L403.65 387.00 L405.25 386.81 L406.86 386.59 L408.46 386.33 L410.07 386.03 L411.67 385.67 L413.28 385.26 L414.88 384.77 L416.48 384.20 L418.09 383.53 L419.69 382.75 L421.30 381.84 L422.90 380.78 L424.51 379.56 L426.11 378.15 L427.72 376.54 L429.32 374.71 L430.92 372.63 L432.53 370.30 L434.13 367.69 L435.74 364.80 L437.34 361.62 L438.95 358.13 L440.55 354.35 L442.16 350.28 L443.76 345.92 L445.36 341.31 L446.97 336.47 L448.57 331.44 L450.18 326.25 L451.78 320.97 L453.39 315.64 L454.99 310.33 L456.60 305.12 L458.20 300.09 L459.80 295.31 L461.41 290.89 L463.01 286.90 L464.62 283.43 L466.22 280.57 L467.83 278.38 L469.43 276.93 L471.04 276.25 L472.64 276.41 L474.24 277.53 L475.85 279.59 L477.45 282.52 L479.06 286.23 L480.66 290.60 L482.27 295.51 L483.87 300.86 L485.48 306.50 L487.08 312.34 L488.68 318.26 L490.29 324.17 L491.89 329.99 L493.50 335.63 L495.10 341.04 L496.71 346.17 L498.31 350.97 L499.92 355.43 L501.52 359.53 L503.12 363.26 L504.73 366.62 L506.33 369.62 L507.94 372.28 L509.54 374.61 L511.15 376.65 L512.75 378.42 L514.36 379.93 L515.96 381.23 L517.56 382.32 L519.17 383.25 L520.77 384.04 L522.38 384.69 L523.98 385.24 L525.59 385.70 L527.19 386.09 L528.80 386.41 L530.40 386.68"/>
<path stroke="#583868" d="M436.50 389.30 L437.68 389.24 L438.86 389.17 L440.03 389.09 L441.21 388.99 L442.39 388.86 L443.57 388.72 L444.74 388.54 L445.92 388.34 L447.10 388.09 L448.28 387.80 L449.46 387.46 L450.63 387.07 L451.81 386.60 L452.99 386.06 L454.17 385.44 L455.34 384.73 L456.52 383.91 L457.70 382.97 L458.88 381.91 L460.06 380.71 L461.23 379.37 L462.41 377.86 L463.59 376.18 L464.77 374.33 L465.94 372.28 L467.12 370.04 L468.30 367.59 L469.48 364.94 L470.66 362.08 L471.83 359.01 L473.01 355.73 L474.19 352.26 L475.37 348.60 L476.54 344.76 L477.72 340.76 L478.90 336.62 L480.08 332.36 L481.26 328.02 L482.43 323.62 L483.61 319.19 L484.79 314.78 L485.97 310.41 L487.14 306.14 L488.32 302.00 L489.50 298.03 L490.68 294.28 L491.86 290.79 L493.03 287.59 L494.21 284.73 L495.39 282.24 L496.57 280.14 L497.74 278.47 L498.92 277.25 L500.10 276.49 L501.28 276.20 L502.46 276.35 L503.63 276.85 L504.81 277.72 L505.99 278.94 L507.17 280.49 L508.34 282.37 L509.52 284.55 L510.70 287.02 L511.88 289.74 L513.06 292.71 L514.23 295.88 L515.41 299.24 L516.59 302.76 L517.77 306.40 L518.94 310.14 L520.12 313.95 L521.30 317.81 L522.48 321.68 L523.66 325.55 L524.83 329.39 L526.01 333.17 L527.19 336.89 L528.37 340.51 L529.54 344.03 L530.72 347.43 L531.90 350.69 L533.08 353.82 L534.26 356.79 L535.43 359.61 L536.61 362.28 L537.79 364.78 L538.97 367.13 L540.14 369.31 L541.32 371.34 L542.50 373.21"/>
</g>
<defs>
<filter id="soft" x="-10%" y="-10%" width="120%" height="120%"><feGaussianBlur stdDeviation="0.6"/></filter><filter id="soft2" x="-30%" y="-30%" width="160%" height="160%"><feGaussianBlur stdDeviation="1.2"/></filter>
<linearGradient id="capside" x1="0" y1="0" x2="0" y2="1">
 <stop offset="0" stop-color="#8a7e72"/><stop offset="0.3" stop-color="#6e6258"/><stop offset="0.6" stop-color="#574d45"/><stop offset="1" stop-color="#463e38"/>
</linearGradient>
<linearGradient id="caphz" x1="0" y1="0" x2="1" y2="0">
 <stop offset="0" stop-color="#fff" stop-opacity="0.08"/><stop offset="0.3" stop-color="#fff" stop-opacity="0.14"/><stop offset="0.6" stop-color="#000" stop-opacity="0.02"/><stop offset="1" stop-color="#000" stop-opacity="0.3"/>
</linearGradient>
<linearGradient id="glass" x1="0" y1="0" x2="1" y2="0">
 <stop offset="0" stop-color="#cbc2be"/><stop offset="0.1" stop-color="#dad2ce"/><stop offset="0.45" stop-color="#e2dbd8"/><stop offset="0.9" stop-color="#d8d0cc"/><stop offset="1" stop-color="#c4bcb8"/>
</linearGradient>
<linearGradient id="liq" x1="0" y1="0" x2="1" y2="0">
 <stop offset="0" stop-color="#3c2a28"/><stop offset="0.12" stop-color="#2e1e1e"/><stop offset="0.6" stop-color="#281818"/><stop offset="1" stop-color="#221414"/>
</linearGradient>
<linearGradient id="men" x1="0" y1="0" x2="0" y2="1">
 <stop offset="0" stop-color="#5e7a80"/><stop offset="1" stop-color="#82a0a6"/>
</linearGradient>
<radialGradient id="holeg" cx="0.5" cy="0.75" r="0.7">
 <stop offset="0" stop-color="#8c969a"/><stop offset="0.7" stop-color="#6c767a"/><stop offset="1" stop-color="#4a5254"/>
</radialGradient>
</defs>
<g filter="url(#soft)">
<path d="M22 262 L22.5 274 Q23 280 17 285 Q11.5 289.5 11.5 297 L12 370 Q12.5 382.2 24 382.5 L60 382.5 Q71.5 382.2 72 370 L72.8 297 Q73 289.5 68 285 Q62.5 280 62.8 274 L63 262 Z" fill="url(#glass)"/>
<path d="M62.8 270 Q62.6 279 67.5 284 Q73 289 72.8 297 L72.4 328" fill="none" stroke="#6e6666" stroke-width="0.9"/>
<path d="M22.5 270 Q22.8 279 17.5 284 Q11.8 289 11.6 297 L12 328" fill="none" stroke="#bab2b0" stroke-width="0.8"/>
<path d="M56 275 Q58 281 63 284.5" fill="none" stroke="#5e5454" stroke-width="1.5"/>
<path d="M29 275 Q26.5 281 21.5 284.5" fill="none" stroke="#80767a" stroke-width="1.4"/>
<path d="M25 270.5 Q42 273.5 60 270.5" fill="none" stroke="#cfc6c4" stroke-width="0.9"/>
<path d="M36 289 L36.3 299" fill="none" stroke="#f0ecea" stroke-width="1.4"/>
<path d="M12.2 327.5 L12.8 370 Q13.2 381.3 24 381.6 L60 381.6 Q70.4 381.3 70.8 370 L71.4 327.5 Q67 326 64.6 323 Q59 313.8 42.5 313.6 Q26 313.8 20.2 323 Q17.5 326 12.2 327.5 Z" fill="url(#liq)"/>
<path d="M24 320 Q32 315 42.5 315 Q54 315 61 320 Q52 318 42.5 318 Q33 318 24 320 Z" fill="#3a2a28" opacity="0.8"/>
<path d="M16 333.5 Q18 327 42.5 326.8 Q66 327 66.8 332 Q66 343 42.5 344.4 Q18 343 16 333.5 Z" fill="#4e6a70"/>
<path d="M22 336.5 Q30 342 42.5 342.6 Q56 341.8 63 335.5 Q54 338.8 42.5 339 Q31 339 22 336.5 Z" fill="#78969a"/>
<path d="M26 333.2 Q29 328.3 43 328 Q58 328.2 62.5 330.8 Q54 336.2 45 336.6 Q34 337 26 333.2 Z" fill="#1a1f23"/>
<path d="M18 333 Q20 327.6 42.5 327.4 Q64 327.6 65.5 331" fill="none" stroke="#5e7c82" stroke-width="0.6"/>
<path d="M31 343 Q34 353 42 355 Q50 353 53 343 Z" fill="#150d0f" filter="url(#soft2)"/>
<path d="M12.9 240.5 L13.1 259 Q14 266.5 42.9 267 Q70.8 266.5 72.2 259 L72.9 240.5 Z" fill="url(#capside)"/>
<path d="M12.9 240.5 L13.1 259 Q14 266.5 42.9 267 Q70.8 266.5 72.2 259 L72.9 240.5 Z" fill="url(#caphz)"/>
<path d="M12.9 241.5 A30 6.6 0 0 0 72.9 241.5" fill="none" stroke="#d2c8bc" stroke-width="3.2" opacity="0.95"/>
<path d="M12.9 243.2 A30 6.6 0 0 0 72.9 243.2" fill="none" stroke="#9a8c7e" stroke-width="1.4" opacity="0.8"/>
<ellipse cx="42.9" cy="240.3" rx="30" ry="6.6" fill="#dadad8"/>
<ellipse cx="42.7" cy="240.6" rx="24" ry="5.8" fill="#ececea"/>
<ellipse cx="42.5" cy="241" rx="21" ry="5.3" fill="none" stroke="#8e8e8c" stroke-width="0.9"/>
<ellipse cx="42.7" cy="239.6" rx="16" ry="4.2" fill="#f4f4f2"/>
<ellipse cx="42.7" cy="239.4" rx="11.7" ry="3.3" fill="url(#holeg)"/>
<path d="M31.2 239.4 A11.5 3.2 0 0 1 54.2 239.4" fill="none" stroke="#262c2e" stroke-width="1.5"/>
<path d="M31.2 239.4 A11.5 3.2 0 0 0 54.2 239.4" fill="none" stroke="#4a5254" stroke-width="0.6"/>
</g>
</svg></body></html>
